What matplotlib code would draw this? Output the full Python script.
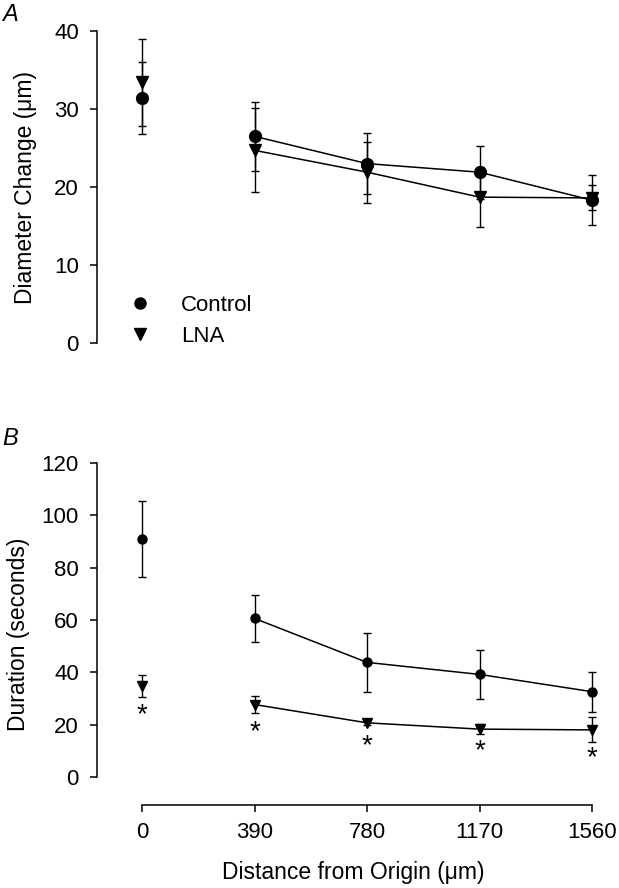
import matplotlib
matplotlib.use("Agg")
import matplotlib.pyplot as plt
from matplotlib.lines import Line2D

plt.rcParams['font.family'] = ['Liberation Sans', 'DejaVu Sans']

# distances from origin (um)
dist = [0, 390, 780, 1170, 1560]
xticks = [0, 390, 780, 1170, 1560]

# panel A: diameter change (um)
diam_ctrl = [31.4, 26.5, 23.0, 21.9, 18.3]
diam_ctrl_err = [4.6, 4.4, 3.9, 3.4, 3.2]
diam_lna = [33.4, 24.7, 21.9, 18.7, 18.6]
diam_lna_err = [5.6, 5.4, 3.9, 3.8, 1.6]

# panel B: duration (seconds)
dur_ctrl = [90.9, 60.6, 43.8, 39.2, 32.6]
dur_ctrl_err = [14.5, 9.1, 11.4, 9.3, 7.6]
dur_lna = [34.8, 27.7, 20.7, 18.3, 18.0]
dur_lna_err = [4.2, 3.4, 1.0, 1.8, 4.8]
star_y = [23.5, 17.3, 11.6, 9.7, 7.1]

W, H = 619, 888
fig = plt.figure(figsize=(W / 100, H / 100), dpi=100)

def frac(x0, y0, x1, y1):
    # pixel box -> figure fraction [left, bottom, width, height]
    return [x0 / W, 1 - y1 / H, (x1 - x0) / W, (y1 - y0) / H]

xlim = (-156, 1622)
TICK_FS = 16
LAB_FS = 16.5

def draw(ax, x, yc, ec, yl, el, ms):
    # first point (origin) is not joined to the rest
    for y, e, m in [(yc, ec, 'o'), (yl, el, 'v')]:
        ax.errorbar(x, y, yerr=e, fmt='none', ecolor='black', elinewidth=1.0,
                    capsize=3.2, capthick=1.0, zorder=2)
        ax.plot(x[1:], y[1:], '-', color='black', lw=1.1, zorder=3)
        ax.plot(x, y, m, color='black', ms=ms, zorder=4)

def style(ax):
    for s in ['top', 'right']:
        ax.spines[s].set_visible(False)
    ax.spines['left'].set_linewidth(1.1)
    ax.tick_params(axis='both', direction='out', length=5, width=1.1,
                   labelsize=TICK_FS, pad=8)

# panel A
axA = fig.add_axes(frac(97, 31, 610, 343))
draw(axA, dist, diam_ctrl, diam_ctrl_err, diam_lna, diam_lna_err, 8.5)
axA.set_xlim(*xlim)
axA.set_ylim(0, 40)
axA.set_yticks([0, 10, 20, 30, 40])
axA.spines['bottom'].set_visible(False)
axA.set_xticks([])
style(axA)
axA.set_ylabel('Diameter Change (\u03bcm)', fontsize=LAB_FS)
axA.yaxis.set_label_coords(-0.117, 0.5)
handles = [Line2D([], [], marker='o', ls='none', color='black', ms=8),
           Line2D([], [], marker='v', ls='none', color='black', ms=8)]
axA.legend(handles, ['Control', 'LNA'], loc='lower left', frameon=False,
           bbox_to_anchor=(0.045, -0.04), fontsize=TICK_FS, handlelength=1.0,
           handletextpad=1.35, labelspacing=0.45, borderaxespad=0)
fig.text(2 / W, 1 - 3 / H, 'A', fontsize=17, style='italic', va='top')

# panel B
axB = fig.add_axes(frac(97, 463, 610, 805))
draw(axB, dist, dur_ctrl, dur_ctrl_err, dur_lna, dur_lna_err, 6.5)
for x, y in zip(dist, star_y):
    axB.text(x, y, '*', ha='center', va='center', fontsize=20)
axB.set_xlim(*xlim)
axB.set_ylim(-10.7, 120)
axB.set_yticks([0, 20, 40, 60, 80, 100, 120])
axB.spines['left'].set_bounds(0, 120)
axB.spines['bottom'].set_bounds(0, 1560)
axB.set_xticks(xticks)
style(axB)
axB.spines['bottom'].set_linewidth(1.1)
axB.tick_params(axis='x', pad=7)
axB.set_ylabel('Duration (seconds)', fontsize=LAB_FS)
axB.yaxis.set_label_coords(-0.131, 0.5)
axB.set_xlabel('Distance from Origin (\u03bcm)', fontsize=LAB_FS)
axB.xaxis.set_label_coords(0.5, -0.164)
fig.text(2 / W, 1 - 427 / H, 'B', fontsize=17, style='italic', va='top')

fig.savefig('out.png', dpi=100)
